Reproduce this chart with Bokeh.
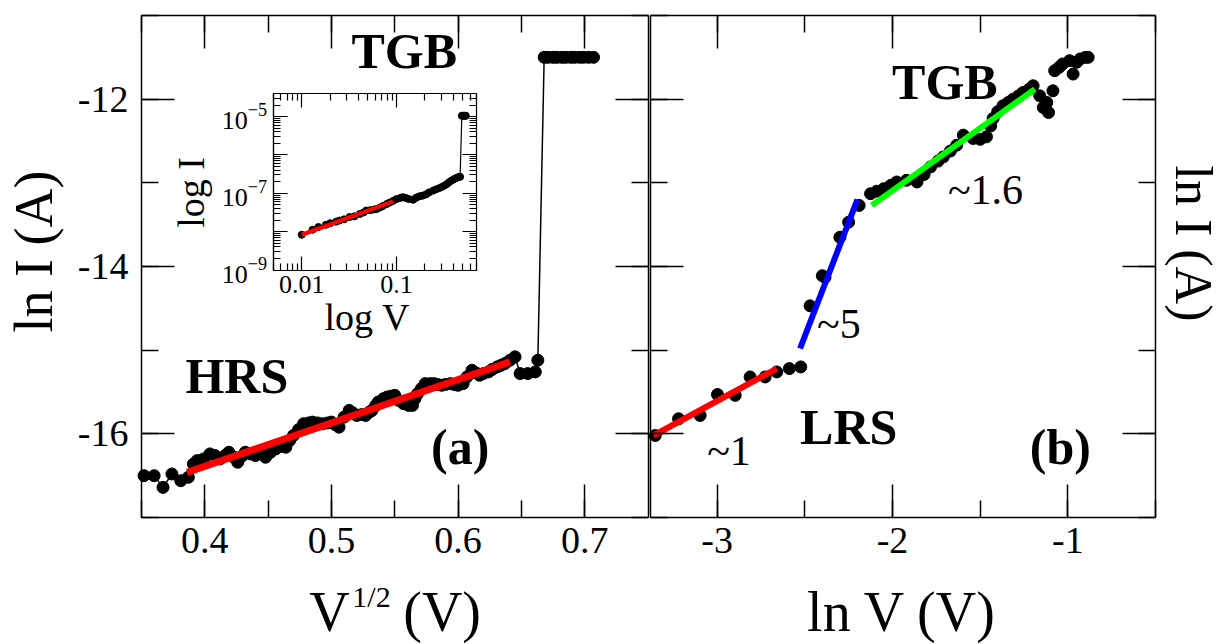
import math
from bokeh.plotting import figure
from bokeh.models import (Range1d, LinearAxis, LogAxis, LogScale, LinearScale, SingleIntervalTicker,
                          FixedTicker, CustomJSTickFormatter, LogTickFormatter, Label)
from bokeh.embed import file_html
from bokeh.resources import INLINE

FONT = "Liberation Serif"

# ---------------- data: panel (a)  ln I vs V^1/2 ----------------
hrs_sqrtv = [0.352, 0.360, 0.367, 0.374, 0.381, 0.387, 0.391, 0.394, 0.399, 0.404,
             0.408, 0.412, 0.416, 0.419, 0.423, 0.426, 0.429, 0.432, 0.436, 0.440,
             0.444, 0.448, 0.452, 0.456, 0.460, 0.464, 0.467, 0.470, 0.474, 0.478,
             0.482, 0.485, 0.489, 0.493, 0.497, 0.500, 0.503, 0.506, 0.510, 0.514,
             0.517, 0.520, 0.524, 0.527, 0.530, 0.532, 0.535, 0.537, 0.541, 0.544,
             0.547, 0.550, 0.553, 0.557, 0.561, 0.564, 0.566, 0.568, 0.571, 0.574,
             0.578, 0.581, 0.584, 0.587, 0.590, 0.594, 0.597, 0.600, 0.604, 0.607,
             0.611, 0.614, 0.617, 0.620, 0.624, 0.627, 0.631, 0.634, 0.637, 0.641,
             0.645, 0.649, 0.655, 0.661, 0.663,
             0.668, 0.671, 0.675, 0.678, 0.682, 0.685, 0.689, 0.692, 0.696, 0.699, 0.703, 0.707]
hrs_lni = [-16.50, -16.50, -16.64, -16.48, -16.56, -16.52, -16.36, -16.32, -16.30, -16.24,
           -16.26, -16.30, -16.26, -16.22, -16.28, -16.34, -16.27, -16.22, -16.24, -16.26,
           -16.24, -16.28, -16.22, -16.18, -16.15, -16.16, -16.08, -16.02, -15.95, -15.88,
           -15.87, -15.86, -15.87, -15.88, -15.87, -15.86, -15.89, -15.92, -15.80, -15.72,
           -15.75, -15.78, -15.77, -15.78, -15.74, -15.72, -15.66, -15.62, -15.58, -15.56,
           -15.55, -15.54, -15.60, -15.64, -15.66, -15.66, -15.58, -15.52, -15.46, -15.40,
           -15.40, -15.40, -15.41, -15.42, -15.41, -15.40, -15.41, -15.42, -15.40, -15.32,
           -15.24, -15.27, -15.30, -15.28, -15.26, -15.23, -15.20, -15.18, -15.16, -15.12,
           -15.08, -15.28, -15.28, -15.26, -15.12,
           -11.50, -11.50, -11.50, -11.50, -11.50, -11.50, -11.50, -11.50, -11.50, -11.50, -11.50, -11.50]
hrs_fit_x = [0.386, 0.641]
hrs_fit_y = [-16.46, -15.14]

# ---------------- data: inset  log I vs log V ----------------
inset_v = [0.010, 0.013, 0.015, 0.018, 0.020, 0.023, 0.025, 0.028, 0.032, 0.036,
           0.041, 0.045, 0.048, 0.053, 0.058, 0.062, 0.067, 0.072, 0.079, 0.085,
           0.092, 0.100, 0.110, 0.117, 0.125, 0.135, 0.150, 0.160, 0.170, 0.180,
           0.190, 0.205, 0.220, 0.243, 0.260, 0.280, 0.300, 0.320, 0.340, 0.360,
           0.380, 0.400, 0.420, 0.440, 0.460, 0.470,
           0.490, 0.500, 0.510, 0.520, 0.530, 0.540]
inset_i = [8.3e-9, 1.12e-8, 1.32e-8, 1.51e-8, 1.66e-8, 1.82e-8, 1.95e-8, 2.09e-8, 2.40e-8, 2.51e-8,
           2.88e-8, 3.16e-8, 3.55e-8, 3.63e-8, 3.80e-8, 3.89e-8, 4.27e-8, 4.68e-8, 5.25e-8, 5.75e-8,
           6.31e-8, 7.08e-8, 7.59e-8, 7.94e-8, 7.59e-8, 7.08e-8, 6.76e-8, 7.59e-8, 8.13e-8, 8.51e-8,
           8.71e-8, 9.33e-8, 1.05e-7, 1.17e-7, 1.26e-7, 1.35e-7, 1.45e-7, 1.58e-7, 1.74e-7, 1.95e-7,
           2.14e-7, 2.29e-7, 2.45e-7, 2.57e-7, 2.69e-7, 2.69e-7,
           1.05e-5, 1.05e-5, 1.05e-5, 1.05e-5, 1.05e-5, 1.05e-5]
inset_fit_v = [0.010, 0.092]
inset_fit_i = [8.3e-9, 6.2e-8]
inset_x_ticks = [0.01, 0.1]
inset_y_ticks_labelled = [1e-9, 1e-7, 1e-5]
inset_y_ticks = [1e-9, 1e-8, 1e-7, 1e-6, 1e-5]

# ---------------- data: panel (b)  ln I vs ln V ----------------
lrs_lnv = [-3.353, -3.22, -3.097, -2.998, -2.897, -2.812, -2.726, -2.66, -2.588, -2.523,
           -2.47, -2.40, -2.385, -2.30, -2.25, -2.19,
           -2.125, -2.09, -2.05, -2.01, -1.976, -1.92, -1.86, -1.82, -1.783, -1.74,
           -1.71, -1.67, -1.634, -1.596, -1.54, -1.50, -1.464, -1.44, -1.426, -1.40,
           -1.37, -1.34, -1.313, -1.28, -1.255, -1.22, -1.198, -1.16, -1.14, -1.12,
           -1.11, -1.085, -1.075, -1.05, -1.03, -0.99, -0.97, -0.95, -0.93, -0.90, -0.884]
lrs_lni = [-16.02, -15.82, -15.78, -15.53, -15.54, -15.32, -15.32, -15.26, -15.22, -15.20,
           -14.47, -14.11, -14.13, -13.65, -13.47, -13.27,
           -13.13, -13.10, -13.07, -13.03, -12.99, -12.97, -12.99, -12.90, -12.81, -12.74,
           -12.69, -12.62, -12.55, -12.43, -12.47, -12.48, -12.45, -12.32, -12.23, -12.15,
           -12.08, -12.04, -12.00, -11.96, -11.92, -11.88, -11.84, -11.96, -12.10, -12.04,
           -12.16, -11.90, -11.66, -11.62, -11.58, -11.54, -11.70, -11.56, -11.52, -11.50, -11.50]
fit1_x = [-3.363, -2.66]
fit1_y = [-16.02, -15.22]
fit5_x = [-2.527, -2.20]
fit5_y = [-14.98, -13.20]
fit16_x = [-2.118, -1.188]
fit16_y = [-13.27, -11.88]

# ---------------- layout (canvas pixels) ----------------
W, H = 1223, 644
YR = (-17.0, -11.0)
XR_L = (0.35, 0.75)
XR_R = (-3.38, -0.5)
INSET_X = (0.005, 0.7)
INSET_Y = (1e-9, 4e-5)
PX_L = (141.0, 647.5)       # left panel, from canvas left
PX_R = (650.0, 1155.0)      # right panel
PY = (127.0, 629.0)         # both panels, from canvas bottom
PX_IN = (272.7, 476.0)      # inset
PY_IN = (374.5, 551.0)


def ext_lin(lo, hi, p_lo, p_hi, total):
    k = (hi - lo) / (p_hi - p_lo)
    return lo - p_lo * k, hi + (total - p_hi) * k


def ext_log(lo, hi, p_lo, p_hi, total):
    a, b = ext_lin(math.log10(lo), math.log10(hi), p_lo, p_hi, total)
    return 10 ** a, 10 ** b


def style_axis(ax, fmt=None, tin=33, tmin=17, size="38px", standoff=12, lw=1.5):
    ax.major_tick_in = tin
    ax.major_tick_out = 0
    ax.minor_tick_in = tmin
    ax.minor_tick_out = 0
    ax.axis_line_width = lw
    ax.major_tick_line_width = lw
    ax.minor_tick_line_width = lw
    ax.axis_line_color = "black"
    ax.major_tick_line_color = "black"
    ax.minor_tick_line_color = "black"
    ax.major_label_text_font = FONT
    ax.major_label_text_font_size = size
    ax.major_label_text_color = "black"
    ax.major_label_standoff = standoff
    ax.formatter = CustomJSTickFormatter(code=fmt if fmt else "return ''")


p = figure(width=W, height=H, x_range=Range1d(*ext_lin(*XR_L, *PX_L, W)),
           y_range=Range1d(*ext_lin(*YR, *PY, H)),
           x_axis_location=None, y_axis_location=None,
           output_backend="svg", toolbar_location=None, tools="",
           min_border=0, min_border_left=0, min_border_right=0, min_border_top=0, min_border_bottom=0)
p.grid.visible = False
p.outline_line_color = None
p.background_fill_color = "white"
p.border_fill_color = "white"

p.extra_x_ranges = {"rx": Range1d(*ext_lin(*XR_R, *PX_R, W)),
                    "ix": Range1d(*ext_log(*INSET_X, *PX_IN, W))}
p.extra_x_scales = {"rx": LinearScale(), "ix": LogScale()}
p.extra_y_ranges = {"iy": Range1d(*ext_log(*INSET_Y, *PY_IN, H))}
p.extra_y_scales = {"iy": LogScale()}


def panel_axes(xr_name, xr, x_interval, x_fmt, y_fmt):
    kw = {} if xr_name is None else {"x_range_name": xr_name}
    b = LinearAxis(fixed_location=YR[0], bounds=xr,
                   ticker=SingleIntervalTicker(interval=x_interval, num_minor_ticks=2), **kw)
    style_axis(b, fmt=x_fmt, standoff=10)
    p.add_layout(b, "below")
    t = LinearAxis(fixed_location=YR[1], bounds=xr,
                   ticker=SingleIntervalTicker(interval=x_interval, num_minor_ticks=2), **kw)
    style_axis(t)
    p.add_layout(t, "above")
    l = LinearAxis(fixed_location=xr[0], bounds=YR,
                   ticker=SingleIntervalTicker(interval=2, num_minor_ticks=2), **kw)
    style_axis(l, fmt=y_fmt, standoff=13)
    p.add_layout(l, "left")
    r = LinearAxis(fixed_location=xr[1], bounds=YR,
                   ticker=SingleIntervalTicker(interval=2, num_minor_ticks=2), **kw)
    style_axis(r)
    p.add_layout(r, "right")


panel_axes(None, XR_L, 0.1, "return tick.toFixed(1)", "return tick.toFixed(0)")
panel_axes("rx", XR_R, 1, "return tick.toFixed(0)", None)

# ---- left panel marks
p.line(hrs_sqrtv, hrs_lni, line_color="black", line_width=1.5)
p.scatter(hrs_sqrtv, hrs_lni, size=12, fill_color="black", line_color="black")
p.line(hrs_fit_x, hrs_fit_y, line_color="#ff0000", line_width=7)

# ---- inset axes
minor_x = [m * 10.0 ** e for e in (-3, -2, -1) for m in range(2, 10)
           if INSET_X[0] <= m * 10.0 ** e <= INSET_X[1] * 1.0001]
minor_y = [m * 10.0 ** e for e in range(-9, -4) for m in range(2, 10)
           if m * 10.0 ** e <= INSET_Y[1] * 1.0001]
ikw = dict(x_range_name="ix", y_range_name="iy")

ib = LogAxis(fixed_location=INSET_Y[0], bounds=INSET_X,
             ticker=FixedTicker(ticks=inset_x_ticks, minor_ticks=minor_x), **ikw)
style_axis(ib, fmt="return tick.toString()", tin=14, tmin=7, size="26px", standoff=6, lw=1.2)
p.add_layout(ib, "below")
itop = LogAxis(fixed_location=INSET_Y[1], bounds=INSET_X,
               ticker=FixedTicker(ticks=inset_x_ticks, minor_ticks=minor_x), **ikw)
style_axis(itop, tin=14, tmin=7, lw=1.2)
p.add_layout(itop, "above")
il = LogAxis(fixed_location=INSET_X[0], bounds=INSET_Y,
             ticker=FixedTicker(ticks=inset_y_ticks_labelled, minor_ticks=[]), **ikw)
style_axis(il, tin=14, tmin=7, size="26px", standoff=6, lw=1.2)
il.formatter = LogTickFormatter()
p.add_layout(il, "left")
il2 = LogAxis(fixed_location=INSET_X[0], bounds=INSET_Y,
              ticker=FixedTicker(ticks=inset_y_ticks, minor_ticks=minor_y), **ikw)
style_axis(il2, tin=14, tmin=7, lw=1.2)
p.add_layout(il2, "left")
ir = LogAxis(fixed_location=INSET_X[1], bounds=INSET_Y,
             ticker=FixedTicker(ticks=inset_y_ticks, minor_ticks=minor_y), **ikw)
style_axis(ir, tin=14, tmin=7, lw=1.2)
p.add_layout(ir, "right")

p.line(inset_v, inset_i, line_color="black", line_width=1.2, **ikw)
p.scatter(inset_v, inset_i, size=7, fill_color="black", line_color="black", **ikw)
p.line(inset_fit_v, inset_fit_i, line_color="#ff0000", line_width=4, **ikw)

# ---- right panel marks
rkw = dict(x_range_name="rx")
p.scatter(lrs_lnv, lrs_lni, size=12, fill_color="black", line_color="black", **rkw)
p.line(fit1_x, fit1_y, line_color="#ff0000", line_width=6, **rkw)
p.line(fit5_x, fit5_y, line_color="#0000ff", line_width=6, **rkw)
p.line(fit16_x, fit16_y, line_color="#00ff00", line_width=6, **rkw)


def lab(x, y, text, size, bold=False, align="left", angle=0.0, xr=None):
    kw = {} if xr is None else {"x_range_name": xr}
    p.add_layout(Label(x=x, y=y, text=text, text_font=FONT, text_font_size=size,
                       text_font_style="bold" if bold else "normal", text_color="black",
                       text_align=align, text_baseline="middle", angle=angle, **kw))


# texts, left panel (y = vertical centre of the text)
lab(0.5575, -11.424, "TGB", "50px", bold=True, align="center")
lab(0.3847, -15.303, "HRS", "50px", bold=True)
lab(0.6017, -16.163, "(a)", "50px", bold=True, align="center")
lab(0.3894, -13.115, "log I", "38px", align="center", angle=math.pi / 2)
lab(0.5283, -14.60, "log V", "38px", align="center")
lab(0.2648, -13.82, "ln I (A)", "54px", align="center", angle=math.pi / 2)
lab(0.4825, -18.135, "V", "56px")
lab(0.5165, -17.94, "1/2", "30px")
lab(0.5567, -18.135, "(V)", "56px")

# texts, right panel
lab(-1.701, -11.789, "TGB", "50px", bold=True, align="center", xr="rx")
lab(-1.684, -13.08, "~1.6", "42px", xr="rx")
lab(-2.430, -14.693, "~5", "42px", xr="rx")
lab(-3.057, -16.211, "~1", "42px", xr="rx")
lab(-2.527, -15.924, "LRS", "50px", bold=True, xr="rx")
lab(-1.217, -16.163, "(b)", "50px", bold=True, xr="rx")
lab(-0.285, -13.725, "ln I (A)", "52px", align="center", angle=-math.pi / 2, xr="rx")
lab(-1.946, -18.135, "ln V (V)", "56px", align="center", xr="rx")

open("out.html", "w").write(file_html(p, INLINE))
